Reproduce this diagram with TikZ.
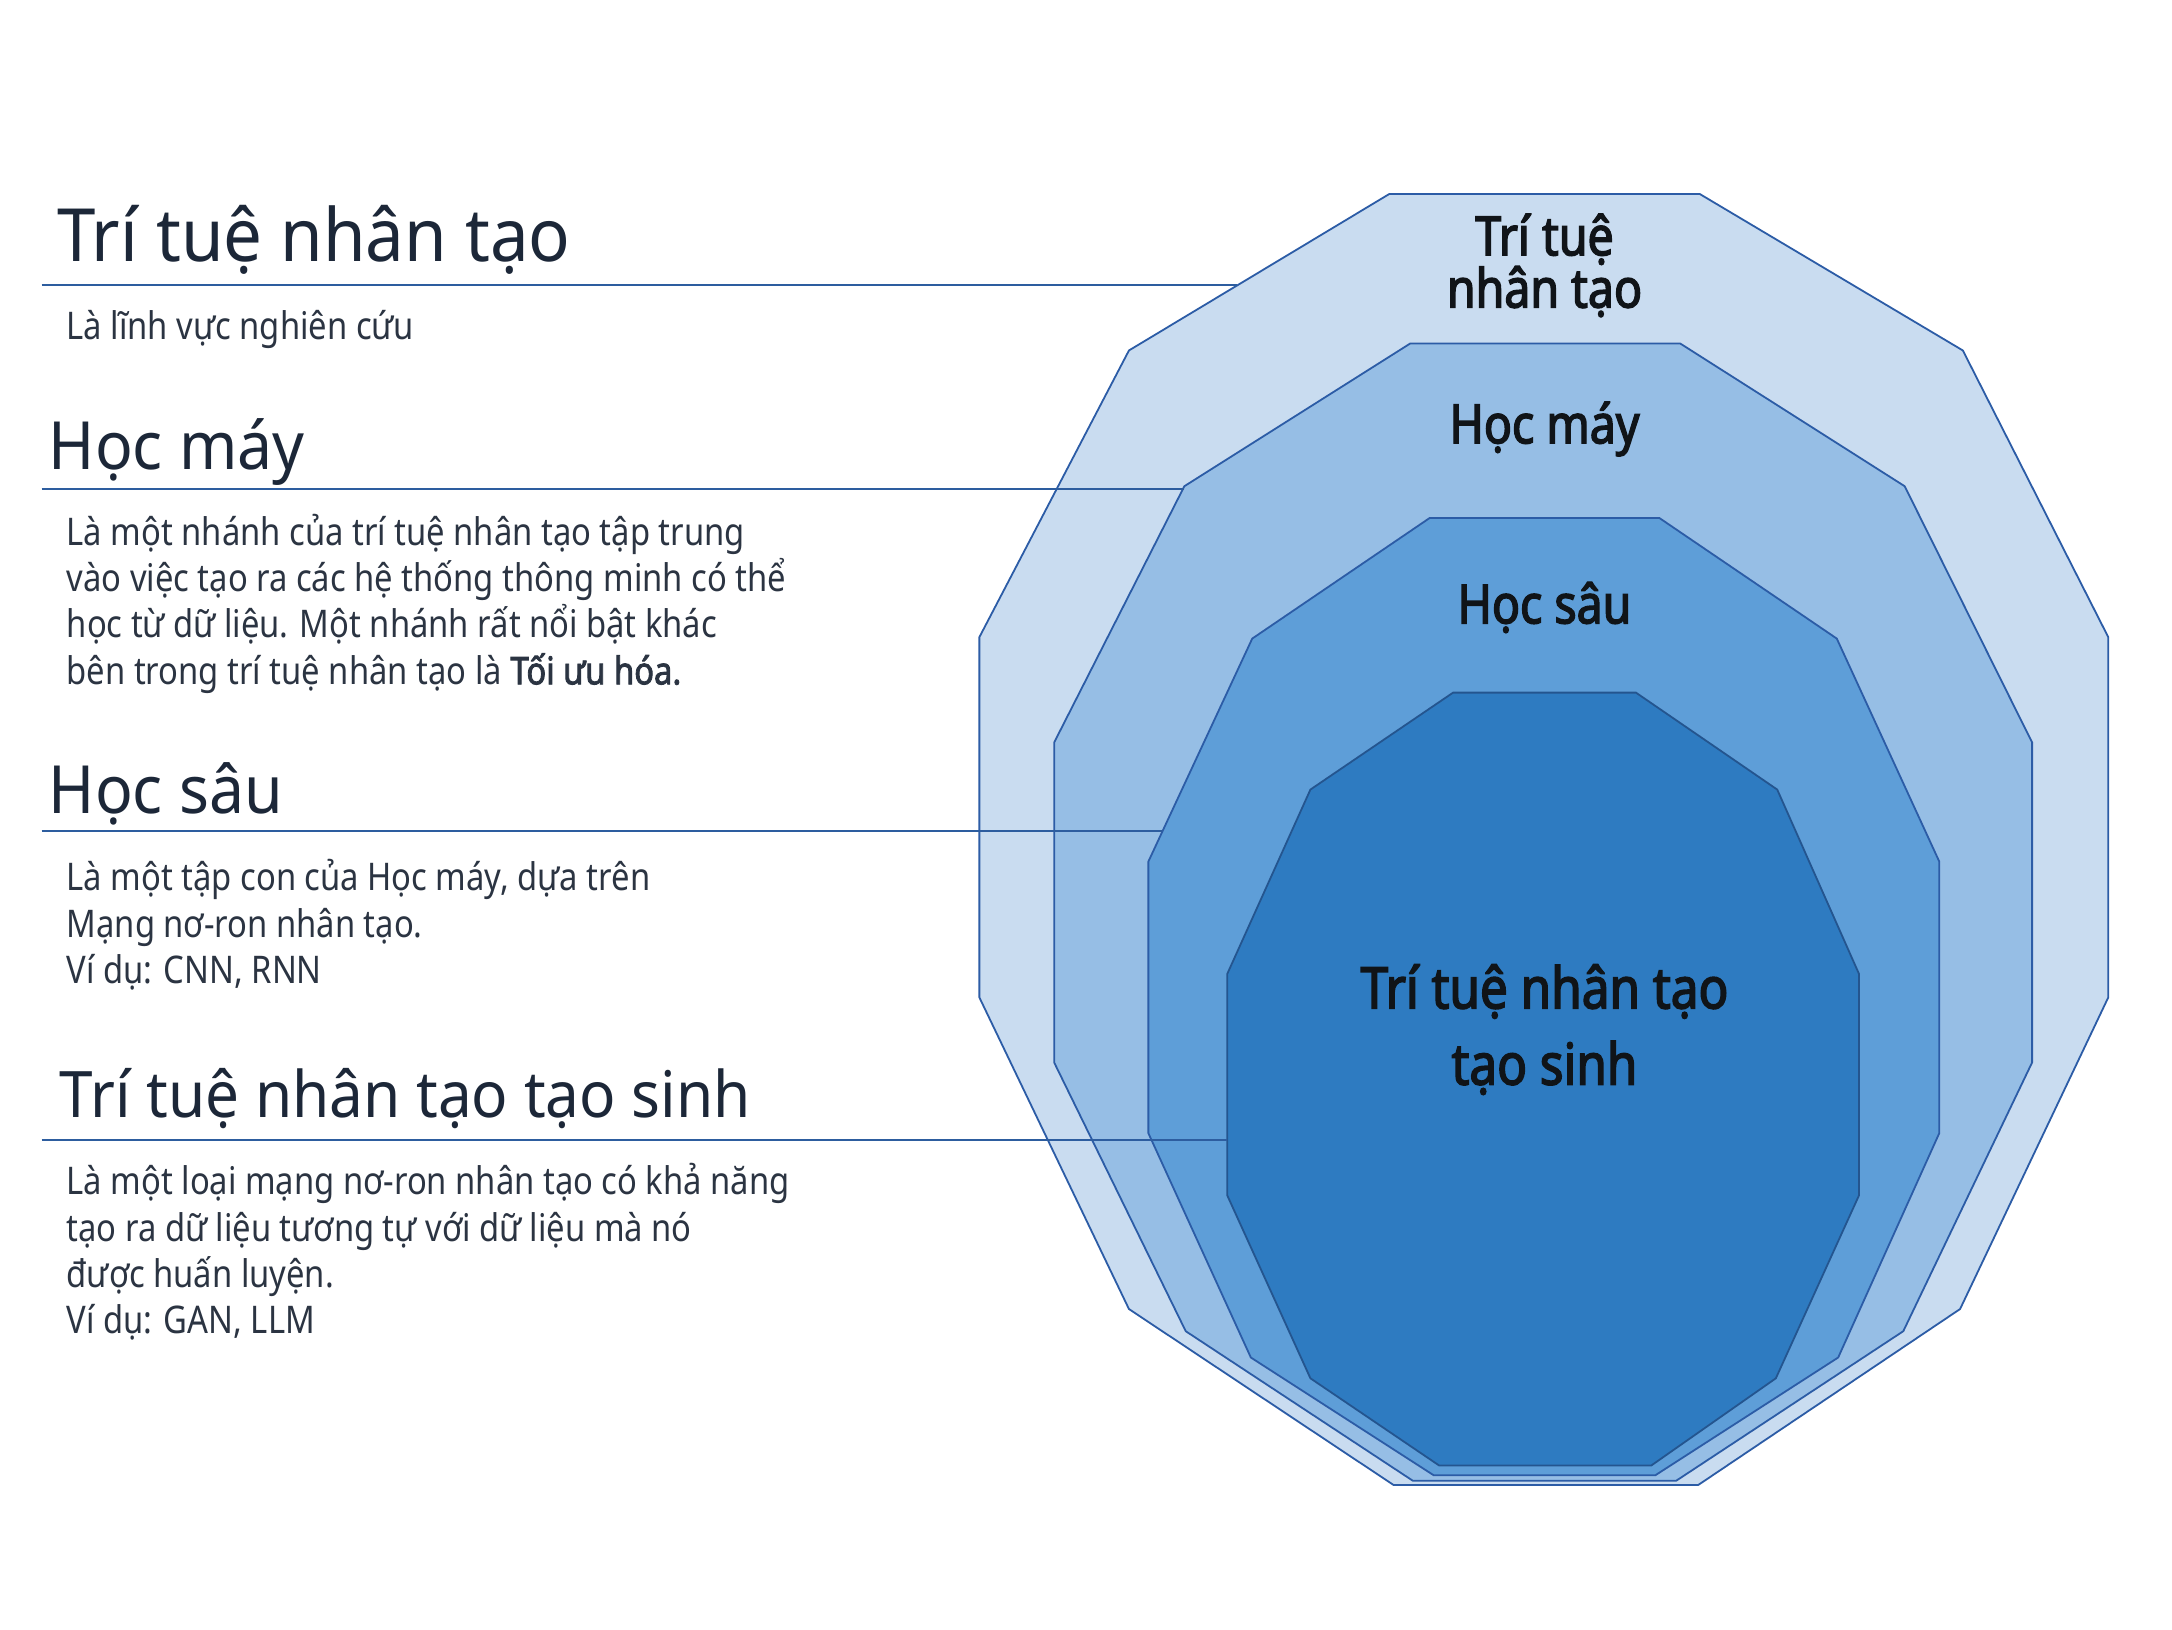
\documentclass[tikz,border=0pt]{standalone}
\usepackage{fontspec}
\setmainfont{Noto Sans}
\newfontfamily\headfont[FakeStretch=0.94]{Noto Sans}
\newfontfamily\bodyfont[FakeStretch=0.86, AutoFakeBold=2.2]{Noto Sans}
\newfontfamily\labfont[FakeStretch=0.86, FakeBold=2.6]{Noto Sans}
\definecolor{headc}{HTML}{1C2738}
\definecolor{bodyc}{HTML}{2B3442}
\definecolor{labc}{HTML}{101418}
\definecolor{rulec}{HTML}{2D5D9F}
\definecolor{fa}{HTML}{C9DCF0}
\definecolor{fb}{HTML}{96BEE5}
\definecolor{fc}{HTML}{5E9ED8}
\definecolor{fd}{HTML}{2E7BC1}
\definecolor{sa}{HTML}{2C5CA6}
\definecolor{sd}{HTML}{24558F}
\tikzset{
  layer/.style={line width=1.3pt, line join=miter},
  heading/.style={anchor=base west, inner sep=0pt, text=headc},
  body/.style={anchor=base west, inner sep=0pt, text=bodyc, align=left,
     font=\bodyfont\fontsize{27.5}{33.5}\selectfont},
  label/.style={inner sep=0pt, text=labc, align=center, font=\labfont\fontsize{39}{36}\selectfont},
  rule/.style={draw=rulec, line width=1.6pt}
}
\begin{document}
\begin{tikzpicture}[x=1pt,y=-1pt]
\useasboundingbox[fill=white] (0,0) rectangle (1568,1176);
% nested polygons
\draw[layer, fill=fa, draw=sa] (1003,140) -- (1227,140) -- (1417,253) -- (1522,460) -- (1522,720) -- (1415,945) -- (1226,1072) -- (1006,1072) -- (815,945) -- (707,720) -- (707,460) -- (815,253) -- cycle;
\draw[layer, fill=fb, draw=sa] (1018,248) -- (1213,248) -- (1375,351) -- (1467,536) -- (1467,767) -- (1374,961) -- (1210,1069) -- (1020,1069) -- (856,961) -- (761,767) -- (761,536) -- (855,351) -- cycle;
\draw[layer, fill=fc, draw=sa] (1032,374) -- (1198,374) -- (1326,461) -- (1400,622) -- (1400,818) -- (1327,980) -- (1195,1065) -- (1035,1065) -- (903,980) -- (829,818) -- (829,622) -- (904,461) -- cycle;
\draw[layer, fill=fd, draw=sd] (1049,500) -- (1181,500) -- (1283,570) -- (1342,703) -- (1342,863) -- (1282,995) -- (1192,1058) -- (1039,1058) -- (946,995) -- (886,863) -- (886,703) -- (946,570) -- cycle;
% labels inside polygons
\node[label, anchor=base] (la) at (1115,222) {Trí tuệ\\nhân tạo};
\node[label, anchor=base] (lb) at (1115,320) {Học máy};
\node[label, anchor=base] (lc) at (1115,450) {Học sâu};
\node[label, anchor=base, font=\labfont\fontsize{41.5}{55}\selectfont] (ld) at (1115,783) {Trí tuệ nhân tạo\\tạo sinh};
% headings
\node[heading, font=\headfont\fontsize{53}{60}\selectfont] (ha) at (41,189) {Trí tuệ nhân tạo};
\node[heading, font=\headfont\fontsize{48}{56}\selectfont] (hb) at (35,339) {Học máy};
\node[heading, font=\headfont\fontsize{48}{56}\selectfont] (hc) at (35,587) {Học sâu};
\node[heading, font=\headfont\fontsize{46.3}{54}\selectfont] (hd) at (43,807) {Trí tuệ nhân tạo tạo sinh};
% rules
\coordinate (ra1) at (30,206); \coordinate (ra2) at (893,206);
\coordinate (rb1) at (30,353); \coordinate (rb2) at (855,353);
\coordinate (rc1) at (30,600); \coordinate (rc2) at (839,600);
\coordinate (rd1) at (30,823); \coordinate (rd2) at (886,823);
\draw[rule] (ra1) -- (ra2);
\draw[rule] (rb1) -- (rb2);
\draw[rule] (rc1) -- (rc2);
\draw[rule] (rd1) -- (rd2);
% body texts (anchored at the baseline of the last line)
\node[body] (ba) at (48,245) {Là lĩnh vực nghiên cứu};
\node[body] (bb) at (48,494) {Là một nhánh của trí tuệ nhân tạo tập trung\\vào việc tạo ra các hệ thống thông minh có thể\\học từ dữ liệu. Một nhánh rất nổi bật khác\\bên trong trí tuệ nhân tạo là \textbf{Tối ưu hóa.}};
\node[body] (bc) at (48,710) {Là một tập con của Học máy, dựa trên\\Mạng nơ-ron nhân tạo.\\Ví dụ: CNN, RNN};
\node[body] (bd) at (48,963) {Là một loại mạng nơ-ron nhân tạo có khả năng\\tạo ra dữ liệu tương tự với dữ liệu mà nó\\được huấn luyện.\\Ví dụ: GAN, LLM};
\end{tikzpicture}
\end{document}
